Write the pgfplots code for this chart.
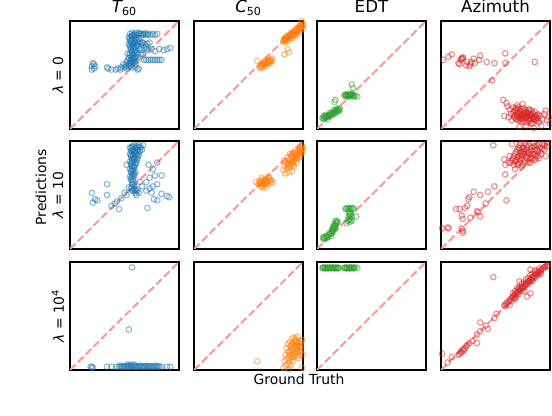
\documentclass[border=0pt]{standalone}
\usepackage{fontspec}
\setmainfont{DejaVu Sans}
\usepackage{pgfplots}
\pgfplotsset{compat=1.18}
\definecolor{tabblue}{HTML}{1F77B4}
\definecolor{taborange}{HTML}{FF7F0E}
\definecolor{tabgreen}{HTML}{2CA02C}
\definecolor{tabred}{HTML}{D62728}
\definecolor{diagc}{HTML}{FF9999}
\pgfplotsset{
  panel/.style={width=78.48pt,height=77.76pt,scale only axis,anchor=north west,
    xmin=0,xmax=1,ymin=0,ymax=1,ticks=none,
    axis line style={line width=0.8pt,black},
    title style={anchor=base,font=\fontsize{12}{14}\selectfont},
    ylabel style={at={(axis description cs:-0.11,0.5)},anchor=center,rotate=0,font=\fontsize{10}{12}\selectfont}},
  pts/.style={only marks,mark=o,mark size=2.0pt,mark options={draw opacity=0.5,line width=0.85pt,solid}},
  diag/.style={diagc,line width=1.5pt,dash pattern=on 5.55pt off 2.4pt,no marks}
}
\begin{document}
\begin{tikzpicture}
\useasboundingbox (0,0) rectangle (397.44pt,299.52pt);
% ---------------- Row 1 : lambda = 0
\begin{axis}[panel,at={(50.4pt,284.4pt)},title={{\itshape T}\textsubscript{60}},ylabel={\textit{λ} = 0}]
\addplot[pts,tabblue] coordinates {
(0.20,0.58)(0.21,0.61)(0.22,0.60)(0.20,0.55)(0.22,0.56)(0.23,0.58)
(0.34,0.57)(0.35,0.56)(0.38,0.55)(0.42,0.55)(0.44,0.56)(0.46,0.55)(0.47,0.57)(0.49,0.60)(0.50,0.57)(0.52,0.56)(0.55,0.59)(0.57,0.57)(0.60,0.57)(0.62,0.55)(0.63,0.56)
(0.54,0.60)(0.56,0.61)(0.58,0.62)(0.60,0.60)(0.55,0.63)(0.57,0.64)(0.59,0.65)(0.61,0.63)(0.54,0.66)(0.56,0.67)(0.58,0.68)(0.60,0.67)(0.62,0.66)(0.55,0.70)(0.57,0.71)(0.59,0.70)(0.61,0.71)(0.56,0.73)(0.58,0.74)(0.60,0.73)(0.55,0.76)(0.57,0.77)(0.59,0.76)(0.61,0.77)(0.54,0.79)(0.56,0.80)(0.58,0.79)(0.60,0.80)(0.62,0.79)(0.55,0.82)(0.57,0.83)(0.59,0.82)(0.61,0.83)(0.54,0.85)(0.56,0.86)(0.58,0.87)(0.60,0.86)(0.62,0.87)(0.55,0.88)(0.57,0.89)(0.59,0.88)
(0.55,0.615)(0.57,0.625)(0.59,0.635)(0.56,0.645)(0.58,0.655)(0.60,0.66)(0.55,0.685)(0.57,0.69)(0.59,0.72)(0.56,0.75)(0.58,0.755)(0.60,0.75)(0.55,0.775)(0.57,0.79)(0.59,0.80)(0.56,0.815)(0.58,0.835)(0.60,0.84)(0.55,0.84)(0.57,0.86)(0.59,0.87)(0.61,0.89)(0.63,0.885)(0.65,0.885)(0.67,0.875)(0.69,0.885)(0.71,0.875)(0.64,0.81)(0.66,0.80)(0.62,0.77)(0.63,0.84)(0.53,0.64)(0.53,0.70)(0.54,0.58)(0.52,0.58)(0.56,0.585)
(0.64,0.88)(0.66,0.87)(0.68,0.88)(0.70,0.87)(0.72,0.88)(0.74,0.87)(0.76,0.88)(0.78,0.87)(0.80,0.88)
(0.63,0.80)(0.65,0.79)(0.67,0.80)(0.69,0.78)(0.71,0.79)(0.73,0.80)
(0.64,0.74)(0.66,0.73)(0.68,0.75)(0.70,0.74)(0.72,0.73)(0.75,0.74)(0.78,0.72)(0.82,0.74)(0.86,0.73)(0.89,0.74)(0.92,0.75)
(0.68,0.64)(0.70,0.64)(0.72,0.64)(0.74,0.64)(0.76,0.64)(0.78,0.64)(0.80,0.64)(0.82,0.64)(0.84,0.64)
(0.65,0.70)(0.67,0.69)(0.70,0.76)(0.62,0.69)(0.52,0.62)(0.51,0.59)
};
\addplot[diag] coordinates {(0,0)(1,1)};
\end{axis}
\begin{axis}[panel,at={(139.68pt,284.4pt)},title={{\itshape C}\textsubscript{50}}]
\addplot[pts,taborange] coordinates {
(0.82,0.81)(0.83,0.83)(0.84,0.82)(0.85,0.84)(0.86,0.85)(0.87,0.84)(0.88,0.86)(0.89,0.87)(0.90,0.86)(0.91,0.88)(0.92,0.89)(0.93,0.88)(0.94,0.90)(0.95,0.91)(0.96,0.92)(0.97,0.93)(0.98,0.94)(0.99,0.95)(1.0,0.96)(0.99,0.98)(0.97,0.96)(0.95,0.94)(0.93,0.91)(0.91,0.90)(0.89,0.89)(0.87,0.87)(0.85,0.86)(0.83,0.84)(0.84,0.80)(0.86,0.82)(0.88,0.84)(0.90,0.84)(0.92,0.86)(0.94,0.87)(0.96,0.89)(0.98,0.91)(1.0,0.93)(0.99,1.0)
(0.825,0.825)(0.845,0.835)(0.865,0.855)(0.885,0.865)(0.905,0.875)(0.925,0.895)(0.945,0.905)(0.965,0.925)(0.985,0.945)(0.995,0.965)(0.975,0.95)(0.955,0.93)(0.935,0.92)(0.915,0.90)(0.895,0.88)(0.875,0.86)(0.855,0.845)(0.835,0.815)
(0.60,0.57)(0.62,0.56)(0.61,0.59)(0.63,0.58)(0.64,0.60)(0.65,0.59)(0.66,0.62)(0.67,0.61)(0.68,0.63)(0.69,0.62)(0.70,0.64)(0.71,0.63)(0.72,0.65)(0.70,0.61)(0.66,0.58)(0.63,0.61)(0.68,0.65)(0.65,0.63)
(0.615,0.575)(0.635,0.595)(0.655,0.605)(0.675,0.625)(0.695,0.635)(0.705,0.625)(0.685,0.615)(0.645,0.615)
(0.58,0.63)(0.86,0.74)(0.87,0.71)(0.83,0.69)
};
\addplot[diag] coordinates {(0,0)(1,1)};
\end{axis}
\begin{axis}[panel,at={(228.24pt,284.4pt)},title={EDT}]
\addplot[pts,tabgreen] coordinates {
(0.05,0.10)(0.06,0.12)(0.07,0.10)(0.08,0.11)(0.09,0.12)(0.10,0.11)(0.11,0.13)(0.12,0.12)(0.13,0.14)(0.14,0.13)(0.15,0.15)(0.16,0.14)(0.17,0.16)(0.18,0.17)(0.19,0.16)(0.20,0.18)(0.21,0.19)(0.19,0.19)(0.17,0.18)(0.15,0.17)(0.06,0.09)(0.08,0.13)(0.12,0.15)(0.10,0.09)
(0.065,0.11)(0.085,0.115)(0.105,0.125)(0.125,0.135)(0.145,0.145)(0.165,0.155)(0.185,0.175)(0.205,0.17)
(0.25,0.31)(0.26,0.32)(0.27,0.31)(0.28,0.32)(0.29,0.31)(0.30,0.32)(0.31,0.31)(0.32,0.32)(0.33,0.31)(0.34,0.30)(0.35,0.31)(0.27,0.30)(0.30,0.30)(0.32,0.33)(0.37,0.30)
(0.265,0.315)(0.285,0.31)(0.305,0.315)(0.325,0.31)
(0.32,0.41)(0.33,0.38)(0.17,0.27)(0.16,0.25)
};
\addplot[diag] coordinates {(0,0)(1,1)};
\end{axis}
\begin{axis}[panel,at={(317.52pt,284.4pt)},title={Azimuth}]
\addplot[pts,tabred] coordinates {
(0.02,0.64)(0.07,0.67)(0.10,0.69)(0.16,0.61)(0.19,0.65)(0.19,0.65)(0.20,0.66)(0.18,0.64)(0.20,0.66)(0.23,0.59)(0.26,0.58)(0.28,0.62)(0.31,0.61)(0.35,0.64)(0.36,0.68)(0.42,0.62)(0.49,0.61)(0.59,0.70)(0.59,0.61)(0.86,0.62)(0.24,0.62)(0.27,0.60)(0.30,0.65)(0.17,0.60)
(0.47,0.45)
(0.57,0.27)(0.58,0.12)(0.61,0.21)(0.60,0.24)(0.63,0.18)(0.64,0.14)(0.66,0.20)(0.67,0.12)(0.68,0.17)(0.69,0.09)(0.70,0.15)(0.71,0.20)(0.72,0.11)(0.73,0.17)(0.74,0.07)(0.75,0.13)(0.76,0.19)(0.77,0.10)(0.78,0.15)(0.79,0.06)(0.80,0.12)(0.81,0.18)(0.82,0.09)(0.83,0.14)(0.84,0.05)(0.85,0.11)(0.86,0.16)(0.87,0.08)(0.88,0.13)(0.89,0.10)(0.90,0.06)(0.91,0.12)(0.93,0.09)(0.95,0.14)(0.97,0.08)(0.99,0.11)(0.72,0.02)(0.78,0.03)(0.85,0.01)(0.65,0.08)(0.62,0.11)(0.70,0.22)(0.75,0.23)(0.68,0.13)(0.71,0.08)(0.74,0.14)(0.76,0.16)(0.79,0.12)(0.81,0.10)(0.83,0.17)(0.73,0.10)(0.77,0.13)(0.80,0.08)(0.69,0.18)(0.92,0.03)(0.96,0.17)(1.0,0.05)
(0.665,0.155)(0.675,0.105)(0.685,0.195)(0.695,0.125)(0.705,0.185)(0.715,0.135)(0.725,0.165)(0.735,0.125)(0.745,0.185)(0.755,0.095)(0.765,0.145)(0.775,0.175)(0.785,0.105)(0.795,0.155)(0.805,0.135)(0.815,0.075)(0.825,0.125)(0.835,0.105)(0.845,0.145)(0.855,0.085)(0.865,0.125)(0.875,0.105)(0.885,0.075)(0.895,0.135)(0.705,0.105)(0.725,0.085)(0.745,0.115)(0.765,0.065)(0.785,0.135)(0.805,0.175)(0.825,0.055)(0.845,0.095)(0.72,0.14)(0.74,0.10)(0.78,0.11)(0.82,0.13)(0.86,0.10)(0.70,0.12)(0.76,0.12)(0.80,0.15)
};
\addplot[diag] coordinates {(0,0)(1,1)};
\end{axis}
% ---------------- Row 2 : lambda = 10
\begin{axis}[panel,at={(50.4pt,198.0pt)},ylabel={\textit{λ} = 10}]
\addplot[pts,tabblue] coordinates {
(0.55,0.94)(0.57,0.95)(0.59,0.96)(0.61,0.95)(0.63,0.96)(0.65,0.94)(0.56,0.91)(0.58,0.92)(0.60,0.91)(0.62,0.92)(0.64,0.91)(0.55,0.88)(0.57,0.88)(0.59,0.89)(0.61,0.88)(0.63,0.87)(0.56,0.85)(0.58,0.84)(0.60,0.85)(0.62,0.84)(0.55,0.81)(0.57,0.81)(0.59,0.82)(0.61,0.80)(0.56,0.78)(0.58,0.77)(0.60,0.78)(0.55,0.74)(0.57,0.74)(0.59,0.75)(0.56,0.71)(0.58,0.70)(0.60,0.71)(0.55,0.67)(0.57,0.67)(0.59,0.68)(0.56,0.64)(0.58,0.63)(0.57,0.60)(0.59,0.58)(0.56,0.56)(0.58,0.54)(0.60,0.52)(0.62,0.55)(0.61,0.50)(0.63,0.52)(0.66,0.58)(0.64,0.62)(0.52,0.78)(0.66,0.92)(0.67,0.96)
(0.56,0.935)(0.58,0.945)(0.60,0.935)(0.62,0.94)(0.64,0.945)(0.57,0.905)(0.59,0.90)(0.61,0.905)(0.63,0.895)(0.56,0.87)(0.58,0.865)(0.60,0.87)(0.62,0.86)(0.57,0.83)(0.59,0.835)(0.61,0.825)(0.56,0.795)(0.58,0.80)(0.60,0.795)(0.57,0.76)(0.59,0.765)(0.56,0.725)(0.58,0.725)(0.57,0.69)(0.59,0.695)(0.56,0.655)(0.58,0.65)(0.57,0.62)(0.58,0.595)(0.57,0.57)(0.59,0.555)(0.60,0.545)(0.61,0.535)
(0.20,0.52)(0.21,0.43)(0.23,0.46)(0.25,0.45)(0.34,0.60)(0.34,0.50)(0.38,0.40)(0.41,0.42)(0.45,0.37)(0.43,0.44)(0.50,0.52)(0.54,0.57)(0.57,0.54)(0.47,0.47)(0.52,0.50)
(0.70,0.62)(0.73,0.66)(0.76,0.74)(0.78,0.68)(0.80,0.60)(0.84,0.68)(0.70,0.54)(0.75,0.52)(0.77,0.46)(0.80,0.45)(0.84,0.51)(0.89,0.49)(0.91,0.48)(0.71,0.38)(0.72,0.78)(0.80,0.80)(0.76,0.58)(0.73,0.56)
};
\addplot[diag] coordinates {(0,0)(1,1)};
\end{axis}
\begin{axis}[panel,at={(139.68pt,198.0pt)}]
\addplot[pts,taborange] coordinates {
(0.57,0.62)(0.59,0.60)(0.60,0.63)(0.61,0.58)(0.62,0.61)(0.63,0.64)(0.64,0.59)(0.65,0.62)(0.66,0.65)(0.67,0.60)(0.68,0.63)(0.69,0.66)(0.70,0.61)(0.71,0.64)(0.72,0.62)(0.66,0.57)(0.63,0.57)(0.68,0.67)(0.62,0.66)(0.64,0.63)(0.66,0.61)
(0.60,0.61)(0.615,0.625)(0.635,0.615)(0.655,0.635)(0.675,0.625)(0.695,0.635)(0.625,0.595)(0.645,0.605)
(0.82,0.73)(0.83,0.77)(0.84,0.80)(0.85,0.74)(0.86,0.78)(0.87,0.82)(0.88,0.76)(0.89,0.80)(0.90,0.84)(0.91,0.78)(0.92,0.82)(0.93,0.86)(0.94,0.84)(0.95,0.88)(0.96,0.86)(0.97,0.90)(0.98,0.88)(0.99,0.92)(1.0,0.94)(0.98,0.94)(0.96,0.91)(0.94,0.80)(0.92,0.76)(0.90,0.72)(0.87,0.71)(0.84,0.70)(0.86,0.85)(0.88,0.88)(0.93,0.91)(0.83,0.82)(0.91,0.89)(0.95,0.83)(0.97,0.85)(0.99,0.89)
(0.875,0.79)(0.895,0.82)(0.915,0.85)(0.935,0.87)(0.955,0.90)(0.975,0.92)(0.865,0.76)(0.885,0.78)(0.905,0.80)(0.925,0.84)(0.945,0.86)(0.965,0.88)(0.985,0.90)(0.995,0.93)(0.855,0.79)(0.875,0.83)(0.895,0.86)(0.915,0.87)(0.935,0.89)(0.99,0.96)(0.97,0.93)
};
\addplot[diag] coordinates {(0,0)(1,1)};
\end{axis}
\begin{axis}[panel,at={(228.24pt,198.0pt)}]
\addplot[pts,tabgreen] coordinates {
(0.055,0.11)(0.07,0.10)(0.08,0.12)(0.10,0.11)(0.11,0.13)(0.12,0.15)(0.13,0.14)(0.14,0.17)(0.14,0.19)(0.15,0.21)(0.16,0.20)(0.16,0.23)(0.17,0.22)(0.18,0.24)(0.18,0.26)(0.19,0.25)(0.17,0.19)(0.15,0.16)(0.09,0.10)(0.06,0.09)(0.13,0.12)(0.17,0.26)
(0.065,0.105)(0.09,0.115)(0.115,0.14)(0.135,0.155)(0.145,0.18)(0.155,0.19)(0.165,0.215)(0.175,0.24)
(0.26,0.37)(0.28,0.38)(0.30,0.37)(0.32,0.38)(0.34,0.37)(0.29,0.35)(0.30,0.33)(0.29,0.30)(0.30,0.28)(0.28,0.26)(0.30,0.25)(0.31,0.27)(0.32,0.30)(0.31,0.32)(0.36,0.30)(0.27,0.24)(0.32,0.26)
(0.27,0.375)(0.29,0.375)(0.31,0.375)(0.33,0.375)(0.30,0.31)(0.29,0.27)
};
\addplot[diag] coordinates {(0,0)(1,1)};
\end{axis}
\begin{axis}[panel,at={(317.52pt,198.0pt)}]
\addplot[pts,tabred] coordinates {
(0.64,0.80)(0.66,0.84)(0.68,0.88)(0.70,0.92)(0.72,0.96)(0.67,0.78)(0.69,0.82)(0.71,0.86)(0.73,0.90)(0.75,0.94)(0.77,0.98)(0.72,0.80)(0.74,0.84)(0.76,0.88)(0.78,0.92)(0.80,0.96)(0.75,0.78)(0.77,0.82)(0.79,0.86)(0.81,0.90)(0.83,0.94)(0.85,0.98)(0.80,0.80)(0.82,0.84)(0.84,0.88)(0.86,0.92)(0.88,0.96)(0.85,0.82)(0.87,0.86)(0.89,0.90)(0.91,0.94)(0.93,0.97)(0.90,0.84)(0.92,0.88)(0.95,0.92)(0.97,0.95)(0.70,0.85)(0.74,0.88)(0.78,0.85)(0.82,0.88)(0.76,0.91)(0.79,0.94)(0.72,0.93)(0.86,0.95)(0.63,0.86)(0.62,0.80)(0.96,0.86)(0.98,0.98)(0.68,0.74)(0.74,0.76)
(0.65,0.82)(0.67,0.86)(0.69,0.90)(0.71,0.94)(0.73,0.98)(0.70,0.79)(0.72,0.83)(0.74,0.87)(0.76,0.93)(0.78,0.96)(0.77,0.80)(0.79,0.84)(0.81,0.87)(0.83,0.91)(0.85,0.95)(0.82,0.80)(0.84,0.84)(0.86,0.88)(0.88,0.92)(0.90,0.97)(0.87,0.83)(0.89,0.86)(0.91,0.91)(0.93,0.93)(0.95,0.96)(0.73,0.86)(0.75,0.90)(0.80,0.89)(0.68,0.81)(0.71,0.78)
(0.48,0.96)(0.65,0.97)(0.58,0.83)(0.59,0.78)(0.59,0.69)(0.49,0.58)(0.43,0.53)(0.36,0.50)(0.30,0.53)(0.26,0.48)(0.25,0.46)(0.33,0.35)(0.34,0.34)(0.36,0.30)(0.41,0.42)(0.60,0.45)(0.17,0.37)(0.22,0.38)(0.24,0.40)(0.19,0.31)(0.20,0.28)(0.19,0.19)(0.20,0.17)(0.20,0.15)(0.06,0.20)(0.07,0.19)(0.01,0.19)(0.27,0.29)(0.14,0.37)
};
\addplot[diag] coordinates {(0,0)(1,1)};
\end{axis}
% ---------------- Row 3 : lambda = 10^4
\begin{axis}[panel,at={(50.4pt,110.88pt)},ylabel={\textit{λ} = 10\textsuperscript{4}}]
\addplot[pts,tabblue] coordinates {
(0.57,0.95)(0.54,0.375)
(0.19,0.03)(0.20,0.03)(0.21,0.02)(0.34,0.03)(0.38,0.03)(0.43,0.03)(0.45,0.03)(0.46,0.04)(0.48,0.03)(0.50,0.03)(0.52,0.04)(0.54,0.03)(0.55,0.04)(0.57,0.03)(0.58,0.04)(0.60,0.03)(0.62,0.03)(0.64,0.04)(0.66,0.03)(0.68,0.03)(0.70,0.04)(0.72,0.03)(0.74,0.03)(0.76,0.03)(0.78,0.04)(0.80,0.03)(0.82,0.03)(0.84,0.03)(0.89,0.03)(0.92,0.03)(0.53,0.05)(0.56,0.05)(0.59,0.05)
(0.47,0.03)(0.49,0.035)(0.51,0.03)(0.53,0.03)(0.56,0.035)(0.59,0.03)(0.61,0.035)(0.63,0.03)(0.65,0.035)(0.67,0.035)(0.69,0.03)(0.71,0.035)(0.73,0.035)(0.75,0.035)(0.77,0.03)(0.79,0.035)(0.81,0.035)
};
\addplot[diag] coordinates {(0,0)(1,1)};
\end{axis}
\begin{axis}[panel,at={(139.68pt,110.88pt)}]
\addplot[pts,taborange] coordinates {
(0.58,0.08)
(0.82,0.02)(0.83,0.08)(0.84,0.14)(0.85,0.20)(0.86,0.05)(0.87,0.11)(0.88,0.17)(0.89,0.23)(0.90,0.29)(0.91,0.08)(0.92,0.14)(0.93,0.20)(0.94,0.26)(0.95,0.31)(0.96,0.11)(0.97,0.17)(0.98,0.23)(0.99,0.28)(1.0,0.14)(0.88,0.26)(0.90,0.20)(0.92,0.24)(0.94,0.18)(0.96,0.22)(0.98,0.18)(0.93,0.28)(0.91,0.17)(0.95,0.25)(0.97,0.27)(0.89,0.14)(0.85,0.10)(0.87,0.01)(0.99,0.02)(0.86,0.24)(0.84,0.04)(0.95,0.13)(0.92,0.30)(0.90,0.12)
(0.875,0.14)(0.895,0.19)(0.915,0.21)(0.935,0.23)(0.955,0.19)(0.975,0.21)(0.885,0.22)(0.905,0.25)(0.925,0.27)(0.945,0.22)(0.965,0.25)(0.985,0.26)(0.865,0.17)(0.875,0.08)(0.885,0.04)(0.895,0.10)(0.915,0.12)(0.935,0.16)(0.955,0.16)(0.975,0.14)
};
\addplot[diag] coordinates {(0,0)(1,1)};
\end{axis}
\begin{axis}[panel,at={(228.24pt,110.88pt)}]
\addplot[pts,tabgreen] coordinates {
(0.05,0.945)(0.06,0.95)(0.07,0.94)(0.08,0.945)(0.09,0.95)(0.10,0.94)(0.11,0.945)(0.12,0.95)(0.13,0.94)(0.14,0.945)(0.15,0.95)(0.16,0.94)(0.17,0.945)(0.18,0.95)(0.19,0.94)(0.20,0.945)(0.25,0.945)(0.26,0.95)(0.27,0.94)(0.28,0.945)(0.29,0.95)(0.30,0.94)(0.31,0.945)(0.32,0.95)(0.33,0.94)(0.34,0.945)(0.35,0.95)(0.37,0.945)
(0.055,0.945)(0.075,0.945)(0.095,0.945)(0.115,0.945)(0.135,0.945)(0.155,0.945)(0.175,0.945)(0.195,0.945)(0.255,0.945)(0.275,0.945)(0.295,0.945)(0.315,0.945)(0.335,0.945)
};
\addplot[diag] coordinates {(0,0)(1,1)};
\end{axis}
\begin{axis}[panel,at={(317.52pt,110.88pt)}]
\addplot[pts,tabred] coordinates {
(0.01,0.15)(0.06,0.07)(0.10,0.12)(0.17,0.15)(0.18,0.17)(0.20,0.19)(0.21,0.18)(0.23,0.22)(0.26,0.25)(0.29,0.27)(0.33,0.25)(0.33,0.33)(0.36,0.36)(0.36,0.44)(0.41,0.41)(0.43,0.38)(0.48,0.86)(0.49,0.48)(0.51,0.52)(0.59,0.59)(0.60,0.61)(0.72,0.82)(0.82,0.93)(0.82,0.71)(0.79,0.68)(0.98,0.96)
(0.16,0.14)(0.19,0.16)(0.22,0.20)(0.24,0.23)
(0.62,0.63)(0.64,0.66)(0.66,0.68)(0.68,0.70)(0.70,0.72)(0.72,0.74)(0.74,0.76)(0.76,0.78)(0.78,0.80)(0.80,0.82)(0.82,0.84)(0.84,0.86)(0.86,0.88)(0.88,0.90)(0.90,0.91)(0.92,0.93)(0.94,0.95)(0.96,0.96)(0.65,0.64)(0.67,0.66)(0.69,0.68)(0.71,0.70)(0.73,0.73)(0.75,0.75)(0.77,0.77)(0.79,0.79)(0.81,0.81)(0.83,0.83)(0.85,0.85)(0.87,0.86)(0.89,0.88)(0.91,0.90)(0.70,0.76)(0.74,0.80)(0.78,0.84)(0.82,0.88)(0.86,0.92)(0.90,0.94)(0.68,0.66)(0.76,0.73)(0.84,0.82)(0.92,0.89)(0.60,0.62)(0.63,0.60)(0.58,0.60)
(0.63,0.645)(0.655,0.67)(0.675,0.695)(0.695,0.71)(0.715,0.735)(0.735,0.755)(0.755,0.77)(0.775,0.795)(0.795,0.815)(0.815,0.83)(0.835,0.855)(0.855,0.87)(0.875,0.89)(0.895,0.90)(0.915,0.92)(0.935,0.94)(0.955,0.955)(0.975,0.97)(0.72,0.77)(0.76,0.81)(0.80,0.85)(0.84,0.89)(0.88,0.92)(0.66,0.71)(0.68,0.73)(0.71,0.75)
};
\addplot[diag] coordinates {(0,0)(1,1)};
\end{axis}
% ---------------- figure labels
\node[rotate=90,font=\fontsize{10}{12}\selectfont] at (29.5pt,164.6pt) {Predictions};
\node[font=\fontsize{10}{12}\selectfont] at (215.3pt,26.6pt) {Ground Truth};
\end{tikzpicture}
\end{document}
